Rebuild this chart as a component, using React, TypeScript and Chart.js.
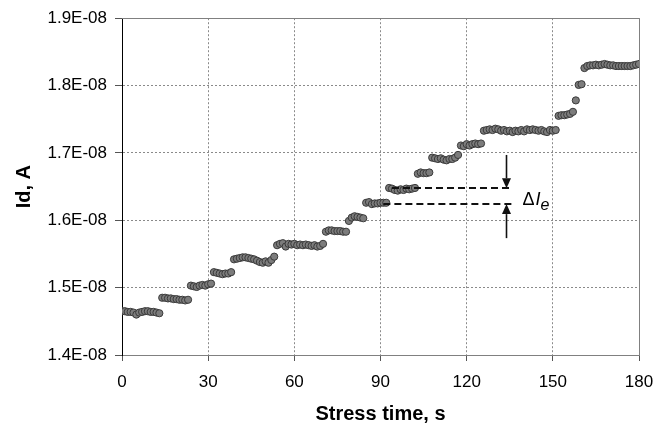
import React, { useEffect, useRef } from "react";
import { Chart, registerables } from "chart.js";

Chart.register(...registerables);

// Drain current Id (in units of 1E-08 A), one sample per second from t = 0 s
const SAMPLE_INTERVAL_S = 1;
const idValues: number[] = [
  // 0-13 s
  1.465, 1.465, 1.464, 1.464, 1.463, 1.460, 1.463, 1.464, 1.465, 1.465, 1.464, 1.464, 1.463, 1.462,
  // 14-23 s
  1.485, 1.485, 1.484, 1.484, 1.483, 1.483, 1.482, 1.482, 1.481, 1.482,
  // 24-31 s
  1.503, 1.502, 1.501, 1.503, 1.504, 1.503, 1.505, 1.506,
  // 32-38 s
  1.523, 1.522, 1.521, 1.520, 1.521, 1.521, 1.523,
  // 39-53 s
  1.542, 1.543, 1.544, 1.545, 1.545, 1.544, 1.543, 1.542, 1.540, 1.538, 1.537, 1.539, 1.537, 1.541, 1.546,
  // 54-70 s
  1.563, 1.565, 1.566, 1.561, 1.565, 1.564, 1.565, 1.563, 1.564, 1.563, 1.564, 1.563, 1.562, 1.563, 1.561, 1.562, 1.565,
  // 71-78 s
  1.583, 1.585, 1.585, 1.584, 1.584, 1.584, 1.583, 1.583,
  // 79-84 s
  1.599, 1.604, 1.606, 1.605, 1.604, 1.603,
  // 85-92 s
  1.626, 1.627, 1.624, 1.625, 1.625, 1.626, 1.626, 1.626,
  // 93-102 s
  1.648, 1.647, 1.645, 1.644, 1.646, 1.645, 1.647, 1.646, 1.647, 1.648,
  // 103-107 s
  1.669, 1.671, 1.670, 1.670, 1.671,
  // 108-117 s
  1.693, 1.692, 1.691, 1.692, 1.690, 1.689, 1.691, 1.691, 1.693, 1.697,
  // 118-125 s
  1.711, 1.710, 1.713, 1.711, 1.713, 1.714, 1.713, 1.714,
  // 126-151 s
  1.733, 1.734, 1.735, 1.734, 1.736, 1.735, 1.733, 1.734, 1.732, 1.733, 1.731, 1.733, 1.732,
  1.734, 1.732, 1.735, 1.734, 1.735, 1.734, 1.733, 1.734, 1.732, 1.731, 1.734, 1.733, 1.734,
  // 152-157 s
  1.755, 1.756, 1.756, 1.757, 1.758, 1.761,
  // 158 s
  1.778,
  // 159-160 s
  1.801, 1.802,
  // 161-180 s
  1.826, 1.829, 1.830, 1.830, 1.831, 1.830, 1.831, 1.832, 1.831, 1.830,
  1.830, 1.829, 1.829, 1.829, 1.829, 1.829, 1.829, 1.830, 1.831, 1.832,
];

const X_MIN = 0;
const X_MAX = 180;
const X_STEP = 30;
const Y_MIN = 1.4;
const Y_MAX = 1.9;
const Y_STEP = 0.1;
const Y_SUFFIX = "E-08";

const X_TITLE = "Stress time, s";
const Y_TITLE = "Id, A";

// ΔIe annotation (data units)
const UPPER_LEVEL = 1.6475;
const LOWER_LEVEL = 1.624;
const UPPER_FROM = 94;
const LOWER_FROM = 91;
const LINES_TO = 136;
const ARROW_T = 133.7;
const ARROW_TOP = 1.697;
const ARROW_BOTTOM = 1.5735;

const FONT = "'Liberation Sans', Arial, sans-serif";

const framePlugin = {
  id: "frame",
  beforeDatasetsDraw(chart: any) {
    const { ctx, chartArea } = chart;
    ctx.save();
    ctx.strokeStyle = "#808080";
    ctx.lineWidth = 1;
    ctx.setLineDash([]);
    ctx.beginPath();
    ctx.moveTo(chartArea.left, Math.round(chartArea.top) + 0.5);
    ctx.lineTo(Math.round(chartArea.right) + 0.5, Math.round(chartArea.top) + 0.5);
    ctx.lineTo(Math.round(chartArea.right) + 0.5, chartArea.bottom);
    ctx.stroke();
    ctx.restore();
  },
};

const annotPlugin = {
  id: "annot",
  afterDatasetsDraw(chart: any) {
    const { ctx } = chart;
    const xs = chart.scales.x;
    const ys = chart.scales.y;
    ctx.save();
    // dashed level lines
    ctx.strokeStyle = "#111";
    ctx.lineWidth = 2;
    ctx.setLineDash([7, 4]);
    const lines = [
      [UPPER_FROM, UPPER_LEVEL],
      [LOWER_FROM, LOWER_LEVEL],
    ];
    for (const [from, lvl] of lines) {
      const yy = Math.round(ys.getPixelForValue(lvl));
      ctx.beginPath();
      ctx.moveTo(xs.getPixelForValue(from), yy);
      ctx.lineTo(xs.getPixelForValue(LINES_TO), yy);
      ctx.stroke();
    }
    ctx.setLineDash([]);
    // arrows
    const ax = Math.round(xs.getPixelForValue(ARROW_T)) + 0.5;
    const drawArrow = (fromV: number, toV: number) => {
      const y0 = ys.getPixelForValue(fromV);
      const y1 = ys.getPixelForValue(toV);
      const dir = y1 > y0 ? 1 : -1;
      const headLen = 10;
      const headHalf = 4.5;
      ctx.strokeStyle = "#111";
      ctx.lineWidth = 1.6;
      ctx.beginPath();
      ctx.moveTo(ax, y0);
      ctx.lineTo(ax, y1 - dir * headLen);
      ctx.stroke();
      ctx.fillStyle = "#111";
      ctx.beginPath();
      ctx.moveTo(ax, y1);
      ctx.lineTo(ax - headHalf, y1 - dir * headLen);
      ctx.lineTo(ax + headHalf, y1 - dir * headLen);
      ctx.closePath();
      ctx.fill();
    };
    drawArrow(ARROW_TOP, UPPER_LEVEL);
    drawArrow(ARROW_BOTTOM, LOWER_LEVEL);
    // label ΔIe
    const base = ys.getPixelForValue(LOWER_LEVEL) + 0.5;
    let tx = ax + 16;
    ctx.fillStyle = "#000";
    ctx.textBaseline = "alphabetic";
    ctx.textAlign = "left";
    ctx.font = `18px ${FONT}`;
    ctx.fillText("Δ", tx, base);
    tx += ctx.measureText("Δ").width + 1;
    ctx.font = `italic 18px ${FONT}`;
    ctx.fillText("I", tx, base);
    tx += ctx.measureText("I").width;
    ctx.font = `italic 16px ${FONT}`;
    ctx.fillText("e", tx, base + 5);
    ctx.restore();
  },
};

export default function App() {
  const ref = useRef<HTMLCanvasElement | null>(null);
  useEffect(() => {
    if (!ref.current) return;
    const points = idValues.map((v, i) => ({ x: i * SAMPLE_INTERVAL_S, y: v }));
    const chart = new Chart(ref.current, {
      type: "scatter",
      data: {
        datasets: [
          {
            data: points,
            pointRadius: 3.6,
            pointBackgroundColor: "#7c7c7c",
            pointBorderColor: "#3a3a3a",
            pointBorderWidth: 1,
            showLine: false,
          },
        ],
      },
      options: {
        responsive: false,
        animation: false,
        events: [],
        layout: { padding: { top: 14, right: 33, left: 0, bottom: 0 } },
        plugins: {
          legend: { display: false },
          tooltip: { enabled: false },
          title: { display: false },
        },
        scales: {
          x: {
            type: "linear",
            min: X_MIN,
            max: X_MAX,
            afterFit: (s: any) => {
              s.height = 73;
            },
            ticks: {
              stepSize: X_STEP,
              color: "#000",
              font: { family: FONT, size: 17 },
              padding: 11,
              maxRotation: 0,
            },
            grid: {
              color: "#8a8a8a",
              lineWidth: 1,
              tickLength: 6,
              tickColor: "#555",
              tickBorderDash: [],
            },
            border: { display: true, color: "#808080", width: 1, dash: [2, 2] },
            title: {
              display: true,
              text: X_TITLE,
              color: "#000",
              font: { family: FONT, size: 20, weight: "bold" },
              padding: { top: 0, bottom: 2 },
            },
          },
          y: {
            type: "linear",
            min: Y_MIN,
            max: Y_MAX,
            afterFit: (s: any) => {
              s.width = 122;
            },
            ticks: {
              stepSize: Y_STEP,
              color: "#000",
              font: { family: FONT, size: 17 },
              padding: 8,
              callback: (v: any) => Number(v).toFixed(1) + Y_SUFFIX,
            },
            grid: {
              color: "#8a8a8a",
              lineWidth: 1,
              tickLength: 7,
              tickColor: "#555",
              tickBorderDash: [],
            },
            border: { display: true, color: "#000", width: 1, dash: [2, 2] },
            title: {
              display: true,
              text: Y_TITLE,
              color: "#000",
              font: { family: FONT, size: 20, weight: "bold" },
              padding: { top: 12, bottom: 0 },
            },
          },
        },
      },
      plugins: [framePlugin, annotPlugin],
    } as any);
    return () => chart.destroy();
  }, []);
  return (
    <div style={{ position: "fixed", left: 0, top: 0, width: 672, height: 428, background: "#fff" }}>
      <canvas ref={ref} width={672} height={428} />
    </div>
  );
}
